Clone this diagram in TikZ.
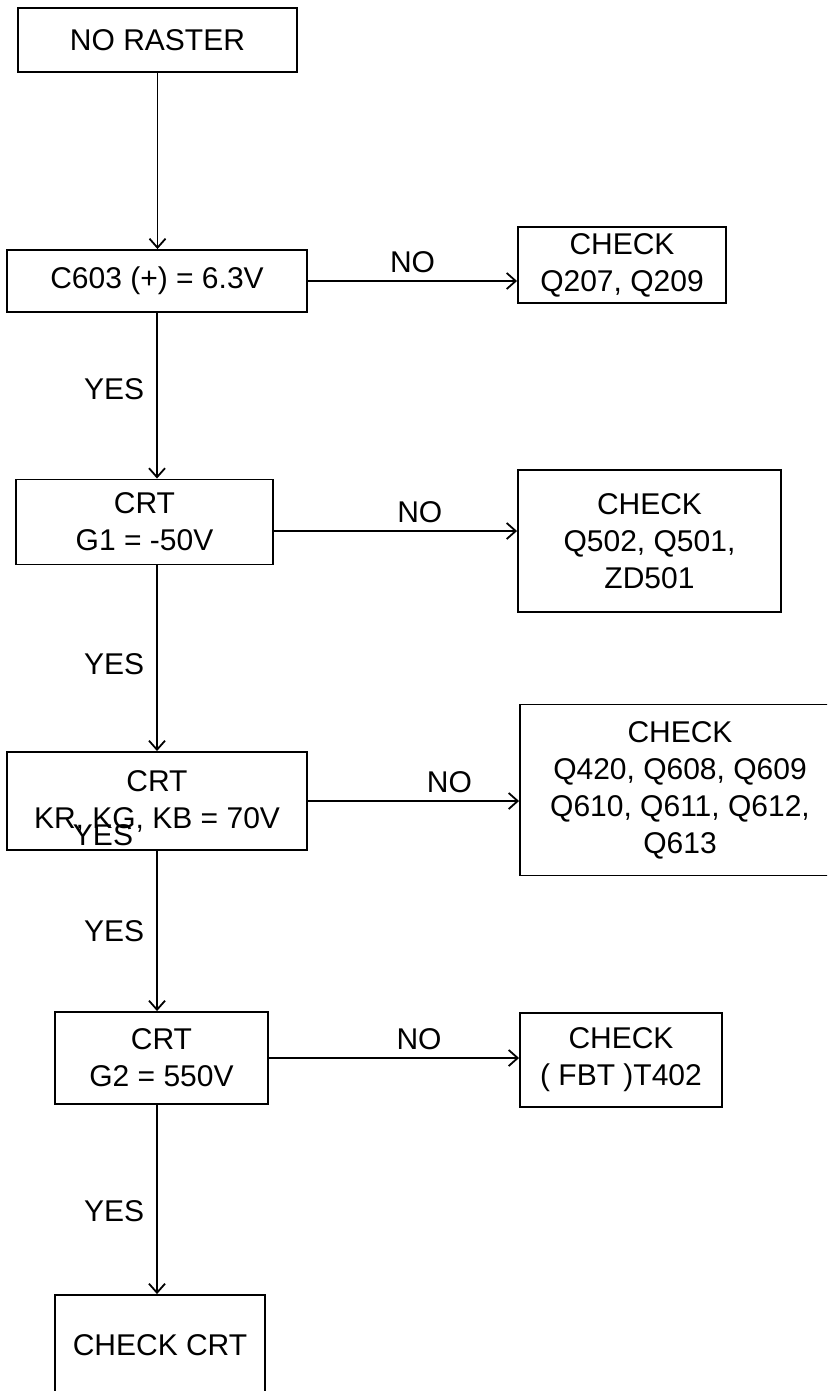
\documentclass[tikz,border=0pt]{standalone}
\usepackage{fontspec}
\setmainfont{Liberation Sans}
\usetikzlibrary{arrows.meta,calc}
\tikzset{
    box/.style={draw, line width=1.9pt, inner sep=4pt, align=center,
                font=\fontsize{30}{37}\selectfont},
    test/.style={box},
    check/.style={box},
    flow/.style={-{Straight Barb[length=9pt, width=16pt, line width=1.8pt]},
                 line width=1.9pt},
    note/.style={font=\fontsize{30}{37}\selectfont, inner sep=2pt},
}
\newcommand{\nobranch}[3][0.5]{
    \draw[flow] (#2) -- node[pos=#1, above=5pt, note] {NO} (#2 -| #3.west);
}
\newcommand{\yesbranch}[3][0.5]{
    \draw[flow] (#2) -- node[pos=#1, left=10pt, note] {YES} (#2 |- #3.north);
}

\begin{document}
\begin{tikzpicture}[x=1pt, y=-1pt]
    \useasboundingbox (0,0) rectangle (827,1391);
    \clip (0,0) rectangle (827,1391);

    % main column
    \node[test, minimum width=279pt, minimum height=64pt] (raster) at (157.5,40) {NO RASTER};
    \node[test, minimum width=300pt, minimum height=62pt] (c603) at (157,281) {C603 (+) = 6.3V};
    \node[test, minimum width=257pt, minimum height=85pt] (g1) at (144.5,522) {CRT\\G1 = -50V};
    \node[test, minimum width=300pt, minimum height=98pt] (kr) at (157,801) {CRT\\KR, KG, KB = 70V};
    \node[test, minimum width=213pt, minimum height=92pt] (g2) at (161.5,1058) {CRT\\G2 = 550V};
    \node[check, minimum width=210pt, minimum height=100pt] (crt) at (160,1345) {CHECK CRT};

    % checks on the right
    \node[check, minimum width=208pt, minimum height=76pt] (chka) at (622,265) {CHECK\\Q207, Q209};
    \node[check, minimum width=263pt, minimum height=142pt] (chkb) at (649.5,541) {CHECK\\Q502, Q501,\\ZD501};
    \node[check, minimum width=320pt, minimum height=171pt] (chkc) at (680,790) {CHECK\\Q420, Q608, Q609\\Q610, Q611, Q612,\\Q613};
    \node[check, minimum width=202pt, minimum height=94pt] (chkd) at (621,1060) {CHECK\\( FBT )T402};

    \draw[flow] (raster.south) -- (raster.south |- c603.north);
    \yesbranch[0.46]{c603.south}{g1}
    \yesbranch[0.53]{c603.south |- g1.south}{kr}
    \yesbranch[0.5]{kr.south}{g2}
    \yesbranch[0.56]{c603.south |- g2.south}{crt}

    \nobranch{c603.east}{chka}
    \nobranch[0.6]{[yshift=-9pt]g1.east}{chkb}
    \nobranch[0.67]{kr.east}{chkc}
    \nobranch[0.6]{g2.east}{chkd}

    \node[note] (strayyes) at (103,835) {YES};
\end{tikzpicture}
\end{document}
